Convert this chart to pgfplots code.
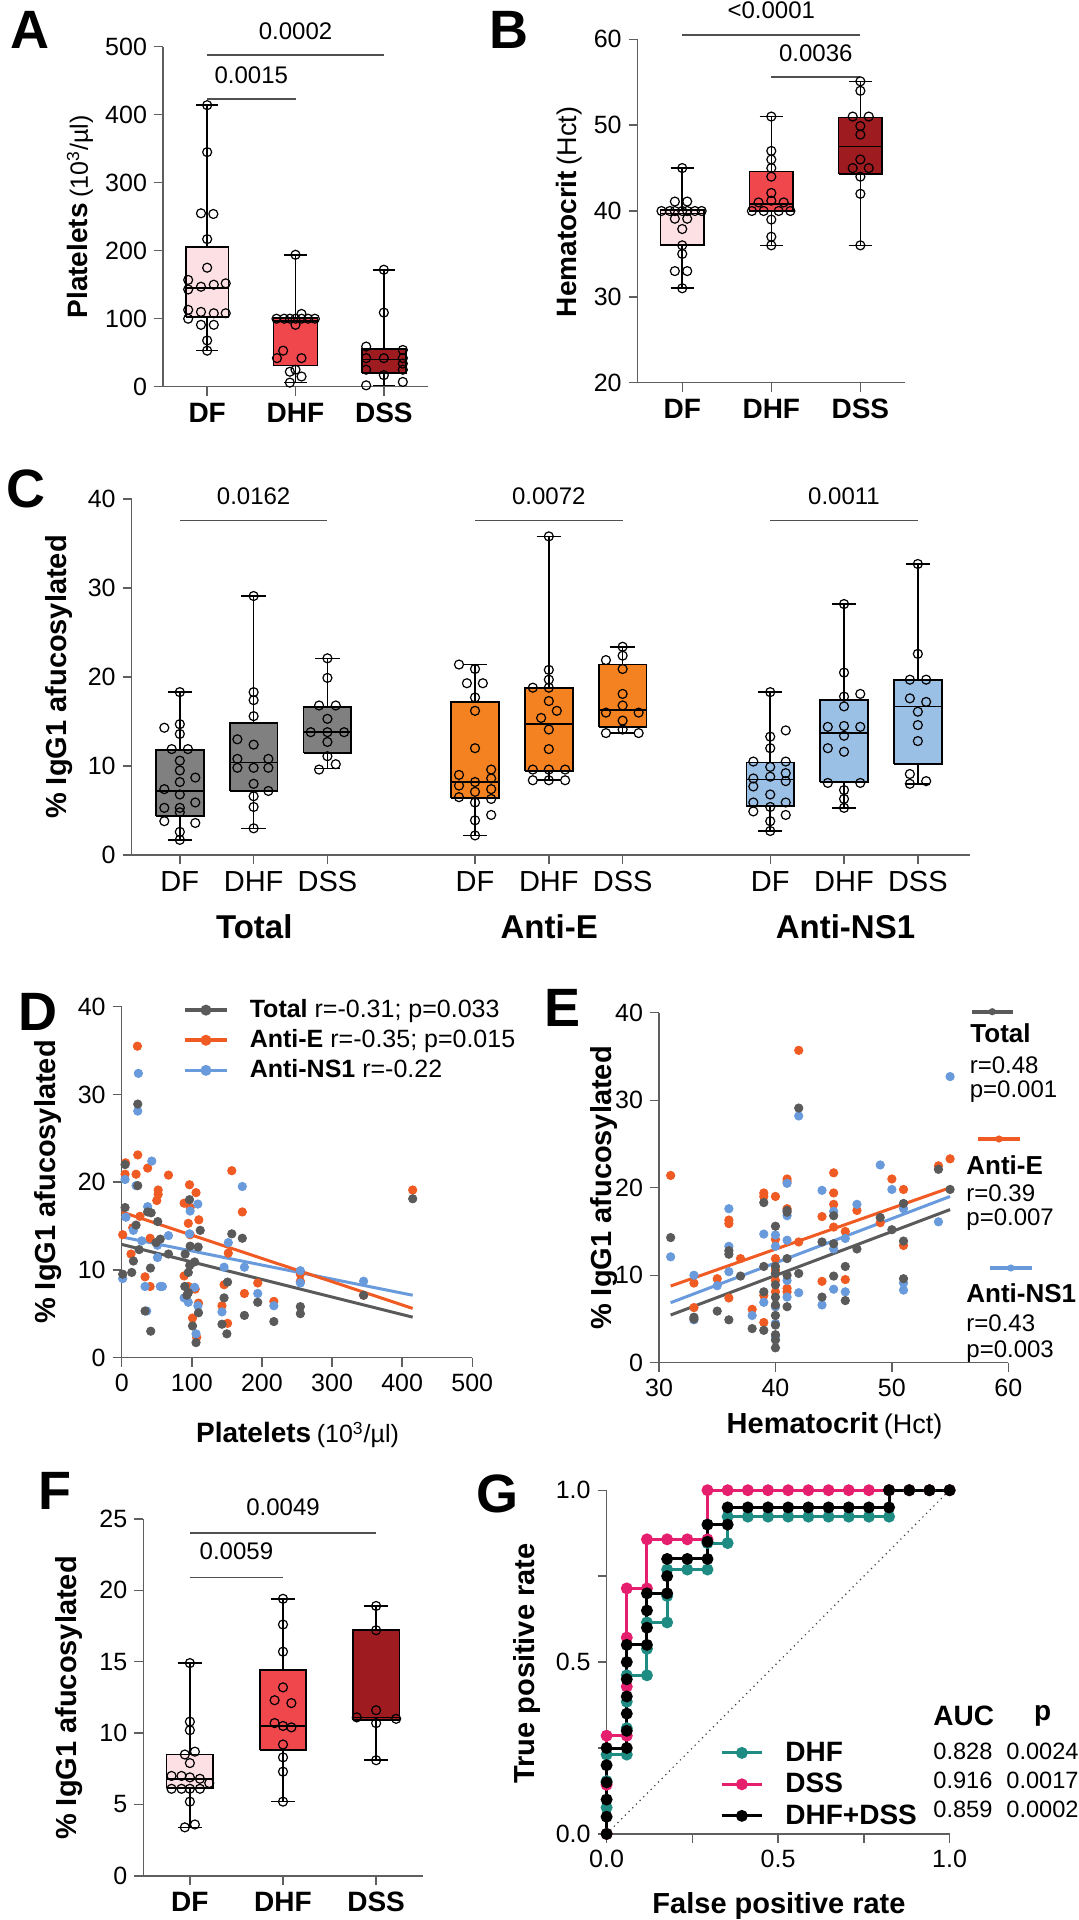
\documentclass[border=0pt]{standalone}
\usepackage{fontspec}
\setmainfont{Liberation Sans}
\usepackage{pgfplots}
\pgfplotsset{compat=1.18}
\newcommand{\fs}[1]{\fontsize{#1}{#1}\selectfont}
\definecolor{axc}{RGB}{95,95,95}
\definecolor{sigc}{RGB}{80,80,80}
\definecolor{DFc}{RGB}{252,224,228}
\definecolor{DHFc}{RGB}{239,71,76}
\definecolor{DSSc}{RGB}{158,27,32}
\definecolor{totc}{RGB}{128,128,128}
\definecolor{antiEc}{RGB}{245,130,32}
\definecolor{nsc}{RGB}{155,192,230}
\definecolor{sTot}{RGB}{90,90,90}
\definecolor{sE}{RGB}{240,90,35}
\definecolor{sNS}{RGB}{105,155,220}
\definecolor{gDHF}{RGB}{30,140,130}
\definecolor{gDSS}{RGB}{230,30,110}
\tikzset{sig/.style={sigc, line width=0.8pt}}
\pgfplotsset{
  gp/.style={scale only axis, anchor=south west, clip=false,
    axis lines=left, axis line style={-, draw=axc, line width=0.7pt},
    tick style={draw=axc, line width=0.7pt},
    tick align=outside, major tick length=4.5pt, minor tick length=4.5pt,
    /pgf/number format/assume math mode=true,
    tick label style={font=\fs{12.5}, text=black}},
  pts/.style={only marks, mark=o, mark size=2.25pt, black, mark options={line width=0.6pt, solid}, forget plot},
  sc/.style={only marks, mark=*, mark size=2.1pt, color=#1, forget plot},
  rl/.style={color=#1, line width=1.5pt, forget plot},
}
% box: pos, box half width, cap half width, lw, lq, med, uq, uw, fill
\newcommand{\bxp}[9]{%
\pgfmathsetmacro\xa{#1-#2}\pgfmathsetmacro\xb{#1+#2}\pgfmathsetmacro\ca{#1-#3}\pgfmathsetmacro\cb{#1+#3}%
\addplot[fill=#9, draw=black, line width=0.85pt, line join=miter, forget plot] coordinates {(\xa,#5) (\xb,#5) (\xb,#7) (\xa,#7) (\xa,#5)};%
\addplot[black, line width=0.8pt, forget plot, unbounded coords=jump] coordinates {(#1,#4) (#1,#5) (nan,nan) (#1,#7) (#1,#8) (nan,nan) (\ca,#4) (\cb,#4) (nan,nan) (\ca,#8) (\cb,#8) (nan,nan) (\xa,#6) (\xb,#6)};%
}
\begin{document}
\begin{tikzpicture}
\useasboundingbox (0,0) rectangle (539pt,-960pt);

% ---------------- A ----------------
\begin{axis}[gp, at={(81.5pt,-193.35pt)}, width=132.5pt, height=170pt,
  xmin=0.5, xmax=3.5, ymin=0, ymax=500, ytick={0,100,...,500},
  xtick={1,2,3}, xticklabels={DF,DHF,DSS}, xticklabel style={font=\bfseries\fs{14}}]
\bxp{1}{0.24}{0.125}{53}{103}{145}{205}{414}{DFc}
\bxp{2}{0.25}{0.125}{6}{31}{97}{101}{194}{DHFc}
\bxp{3}{0.25}{0.125}{2}{20}{40}{55}{172}{DSSc}
\addplot[pts] coordinates {(1,414) (1,345) (0.93,255) (1.07,254) (1,217) (1,175) (0.785,157) (1.21,152) (1.075,150) (0.93,147) (0.785,143) (0.785,113) (0.93,110) (1.075,108) (1.21,108) (0.785,100) (0.93,91) (1.075,91) (1,68) (1,53)};
\addplot[pts] coordinates {(2,194) (2.068,107) (1.785,100) (1.872,100) (1.936,100) (2,100) (2.068,100) (2.143,100) (2.219,100) (2,91) (1.86,53) (1.79,42) (2.068,42) (2,25) (1.936,22) (2.068,15) (1.936,6)};
\addplot[pts] coordinates {(3,172) (3,109) (2.8,59) (3.215,54) (2.8,42) (3,42) (3.215,42) (3.215,34) (2.8,25) (3.215,25) (3,17) (3.215,7) (2.8,2)};
\draw[sig] (axis cs:1,423) -- (axis cs:2,423);
\node[font=\fs{12}] at (axis cs:1.5,458) {0.0015};
\draw[sig] (axis cs:1,488) -- (axis cs:3,488);
\node[font=\fs{12}] at (axis cs:2,522) {0.0002};
\end{axis}

% ---------------- B ----------------
\begin{axis}[gp, at={(318.85pt,-191.35pt)}, width=133.6pt, height=171.7pt,
  xmin=0.5, xmax=3.5, ymin=20, ymax=60, ytick={20,30,...,60},
  xtick={1,2,3}, xticklabels={DF,DHF,DSS}, xticklabel style={font=\bfseries\fs{14}}]
\bxp{1}{0.245}{0.13}{31}{36}{39.7}{40.1}{45}{DFc}
\bxp{2}{0.245}{0.13}{36}{40}{40.8}{44.6}{51}{DHFc}
\bxp{3}{0.245}{0.13}{36}{44.3}{47.5}{50.9}{55.1}{DSSc}
\addplot[pts] coordinates {(1,45) (0.917,41.1) (1.056,41.1) (0.767,40) (0.861,40) (0.917,40) (1,40) (1.056,40) (1.143,40) (1.218,40) (0.917,39.1) (1.056,39.1) (1,37.9) (1,36) (1,35) (0.917,33) (1.056,33) (1,31)};
\addplot[pts] coordinates {(2,51) (2,47) (2,46) (2,45) (2,44) (2,42.1) (1.857,41) (2,41.2) (2.139,41) (1.782,40) (1.914,40) (2.083,40) (2.214,40) (2,39) (2,37) (2,36)};
\addplot[pts] coordinates {(3,55.1) (3,54) (2.914,51) (3.094,51) (3,49.9) (3,48.9) (3,46) (2.914,45) (3.094,45) (3,44) (3,42) (3,36)};
\draw[sig] (axis cs:1,60.5) -- (axis cs:3,60.5);
\node[font=\fs{12}] at (axis cs:2,63.4) {<0.0001};
\draw[sig] (axis cs:2,55.6) -- (axis cs:3,55.6);
\node[font=\fs{12}] at (axis cs:2.5,58.4) {0.0036};
\end{axis}

% ---------------- C ----------------
\begin{axis}[gp, at={(65.85pt,-427.5pt)}, width=419.15pt, height=178pt,
  xmin=0.348, xmax=11.707, ymin=0, ymax=40, ytick={0,10,...,40},
  xtick={1,2,3,5,6,7,9,10,11}, xticklabels={DF,DHF,DSS,DF,DHF,DSS,DF,DHF,DSS},
  xticklabel style={font=\fs{14.5}}]
\bxp{1}{0.323}{0.165}{1.7}{4.4}{7.2}{11.8}{18.3}{totc}
\bxp{2}{0.323}{0.165}{3.0}{7.2}{10.4}{14.8}{29.1}{totc}
\bxp{3}{0.323}{0.165}{9.7}{11.5}{13.8}{16.6}{22.1}{totc}
\bxp{5}{0.323}{0.165}{2.2}{6.4}{8.2}{17.2}{21.4}{antiEc}
\bxp{6}{0.323}{0.165}{8.4}{9.4}{14.7}{18.8}{35.8}{antiEc}
\bxp{7}{0.323}{0.165}{13.7}{14.4}{16.3}{21.4}{23.4}{antiEc}
\bxp{9}{0.323}{0.165}{2.7}{5.5}{8.5}{10.4}{18.3}{nsc}
\bxp{10}{0.323}{0.165}{5.3}{8.2}{13.7}{17.4}{28.2}{nsc}
\bxp{11}{0.323}{0.165}{8.0}{10.2}{16.7}{19.7}{32.7}{nsc}
\addplot[pts] coordinates {(1,18.3) (0.79,14.3) (1,14.7) (1,13.6) (0.89,11.9) (1.11,11.9) (1,10.6) (1,9.5) (1.21,8.7) (1,8.2) (0.79,7.4) (1,6.8) (1.21,5.9) (0.79,5.3) (1,5.3) (1,4.8) (0.79,3.8) (1.21,3.6) (1,2.6) (1,1.7)};
\addplot[pts] coordinates {(2,29.1) (2,18.3) (2,17.4) (2,15.6) (1.78,13.0) (2,12.4) (1.78,10.8) (2.2,10.8) (1.78,9.8) (2,9.8) (2.2,9.8) (2,8.0) (2.2,7.2) (2,6.6) (2,5.4) (2,3.0)};
\addplot[pts] coordinates {(3,22.1) (3,19.9) (2.887,16.8) (3.113,16.8) (3,15.3) (2.774,13.8) (3,13.8) (3.226,13.8) (3,12.7) (3,11.1) (3.113,10.2) (2.887,9.6)};
\addplot[pts] coordinates {(4.783,21.4) (5,20.9) (4.89,19.3) (5.106,19.3) (5,17.7) (5,16.2) (5,12.0) (5.219,9.6) (4.783,9.0) (5.219,8.6) (5,8.2) (4.783,7.8) (5.219,7.4) (5,7.1) (4.783,6.5) (5.219,6.3) (5,5.9) (5.219,4.5) (5,3.9) (5,2.2)};
\addplot[pts] coordinates {(6,35.8) (6,20.8) (6,19.7) (5.783,18.8) (6,18.8) (6,17.3) (6.108,16.2) (5.896,15.4) (6,14.1) (6,11.9) (5.783,9.6) (6,9.6) (6.221,9.6) (5.783,8.4) (6,8.4) (6.221,8.4)};
\addplot[pts] coordinates {(7,23.4) (7,22.4) (6.774,21.9) (7,20.9) (7,18.1) (7,16.8) (6.774,16.0) (7.217,16.0) (7,15.1) (7,14.1) (6.774,13.7) (7.217,13.7)};
\addplot[pts] coordinates {(9,18.3) (9.21,14.0) (9,13.3) (9,12.0) (8.771,10.5) (9.21,10.5) (9,9.9) (9.21,9.2) (9,8.8) (8.771,8.6) (9.21,8.3) (8.771,7.7) (9,6.8) (8.771,5.9) (9.21,5.9) (9,5.4) (8.771,4.9) (9.21,4.5) (9,3.8) (9,2.7)};
\addplot[pts] coordinates {(10,28.2) (10,20.5) (10,17.8) (10.22,18.1) (10,16.7) (10,14.5) (9.78,14.4) (10.22,14.4) (10,13.4) (9.78,12.0) (10,11.6) (9.78,8.1) (10.22,8.1) (10,7.3) (10,6.3) (10,5.3)};
\addplot[pts] coordinates {(11,32.7) (11,22.6) (10.892,19.7) (11.113,19.7) (10.892,17.6) (11.113,17.2) (11,16.1) (11,14.6) (11,12.8) (10.892,9.1) (11.113,8.3) (10.892,8.0)};
\draw[sig] (axis cs:1,37.6) -- (axis cs:3,37.6);
\node[font=\fs{12}] at (axis cs:2,40.3) {0.0162};
\draw[sig] (axis cs:5,37.6) -- (axis cs:7,37.6);
\node[font=\fs{12}] at (axis cs:6,40.3) {0.0072};
\draw[sig] (axis cs:9,37.6) -- (axis cs:11,37.6);
\node[font=\fs{12}] at (axis cs:10,40.3) {0.0011};
\end{axis}

% ---------------- D ----------------
\begin{axis}[gp, at={(60.85pt,-678.75pt)}, width=175.3pt, height=175.4pt,
  xmin=0, xmax=500, ymin=0, ymax=40, xtick={0,100,...,500}, ytick={0,10,...,40},
  legend style={at={(axis cs:87,41.2)}, anchor=north west, draw=none, fill=none, inner sep=0pt, row sep=1.5pt,
    font=\fs{12.5}, nodes={inner sep=1.5pt}, /tikz/every odd column/.append style={column sep=9pt}},
  legend cell align=left,
  legend image code/.code={\draw[mark repeat=2,mark phase=2,#1] plot coordinates {(0cm,0cm) (0.37cm,0cm) (0.74cm,0cm)};}]
\addlegendimage{sTot, line width=1.8pt, mark=*, mark size=1.8pt}
\addlegendentry{\textbf{Total} r=-0.31; p=0.033}
\addlegendimage{sE, line width=1.8pt, mark=*, mark size=1.8pt}
\addlegendentry{\textbf{Anti-E} r=-0.35; p=0.015}
\addlegendimage{sNS, line width=1.8pt, mark=*, mark size=1.8pt}
\addlegendentry{\textbf{Anti-NS1} r=-0.22}
\addplot[sc=sE] coordinates {(22.4,35.5) (22.9,23.1) (4.8,20.9) (5.5,22.2) (20.5,20.9) (37,21.6) (66.7,20.8) (52,19.1) (52,18.6) (50,17.9) (26,16.1) (96.7,19.7) (106,18.8) (89,17.6) (97.6,17.1) (110,15.7) (95,15.3) (97.6,14.0) (40.5,13.6) (15.7,14.8) (1.4,14.0) (13.3,11.8) (33.3,9.2) (40.5,8.1) (89,9.3) (104.8,7.8) (95,8.1) (109.5,6.2) (101,4.5) (107,2.3) (157,21.3) (172,16.6) (152,11.9) (146,8.3) (143,5.9) (151,3.9) (175,7.3) (194,8.5) (217,6.4) (254.8,9.5) (254.8,8.7) (345,7.1) (415,19.1)};
\addplot[sc=sNS] coordinates {(23.8,32.4) (22.9,28.1) (4.8,20.3) (42.9,22.4) (20.5,19.6) (6,16.0) (37,17.2) (1.4,9.0) (16.7,14.5) (28.6,13.3) (51,12.8) (66.7,13.9) (51,11.4) (33.3,8.1) (55,8.1) (58,8.1) (35.7,5.3) (97.6,16.7) (108.6,17.5) (96.7,14.1) (89,6.8) (95,6.3) (108.6,5.9) (106,2.7) (104,8.0) (172,19.5) (152,13.1) (146,10.3) (175,10.3) (143,5.2) (194,7.3) (217,5.9) (254.8,9.9) (254.8,8.5) (345,8.7)};
\addplot[sc=sTot] coordinates {(22.9,28.9) (4.8,22.0) (22.9,19.6) (4.8,17.1) (37,16.6) (42,16.5) (20.5,15.1) (51.4,15.5) (1.4,9.5) (14.3,9.7) (16.7,11.0) (24.8,12.3) (41,10.2) (49,13.1) (55,13.5) (66.7,11.8) (33.3,5.3) (41.4,3.0) (96.7,18.0) (97.6,12.7) (109,12.6) (112,14.5) (90.5,11.8) (97,10.5) (104,10.9) (95,9.7) (90,8.1) (95,7.4) (93,7.1) (109.5,5.1) (101,3.6) (106,1.7) (157,14.1) (172,13.6) (151,8.6) (146,6.8) (143,3.8) (150,2.7) (175,4.8) (194,6.3) (217,4.1) (254.8,5.8) (254.8,5.0) (345,7.1) (415,18.1)};
\addplot[rl=sNS] coordinates {(0,13.75) (415,7.1)};
\addplot[rl=sTot] coordinates {(0,12.9) (415,4.6)};
\addplot[rl=sE] coordinates {(0,16.6) (415,5.6)};
\end{axis}

% ---------------- E ----------------
\begin{axis}[gp, at={(329.5pt,-681.35pt)}, width=174.65pt, height=175pt,
  xmin=30, xmax=60, ymin=0, ymax=40, xtick={30,40,50,60}, ytick={0,10,...,40}]
\addplot[sc=sE] coordinates {(31,21.4) (33,9.1) (33,6.3) (35,9.6) (36,16.3) (36,15.9) (36,7.4) (37,11.9) (38,6.1) (39,19.4) (39,19.0) (39,7.7) (39,4.6) (40,19.0) (40,14.1) (40,11.9) (40,10.6) (40,9.4) (40,8.1) (40,6.4) (41,21.0) (41,20.7) (41,17.6) (41,8.5) (41,8.1) (42,35.7) (42,13.8) (44,16.7) (44,9.3) (45,21.7) (45,19.4) (45,18.1) (45,15.5) (46,15.0) (46,9.5) (47,17.4) (49,16.0) (50,21.0) (51,19.8) (51,13.4) (54,22.5) (55,23.3)};
\addplot[sc=sNS] coordinates {(31,12.1) (33,10.0) (33,4.9) (35,8.8) (36,17.6) (36,13.3) (36,10.4) (38,5.4) (39,14.7) (39,6.9) (40,14.6) (40,13.3) (40,6.4) (40,4.5) (40,3.0) (41,20.5) (41,16.8) (41,14.0) (41,9.4) (41,7.5) (42,28.2) (42,8.0) (44,19.7) (44,6.6) (45,17.3) (45,13.0) (45,8.4) (46,14.2) (46,8.1) (47,18.1) (49,22.6) (50,19.8) (51,17.6) (51,9.1) (51,8.3) (54,16.1) (55,32.7)};
\addplot[sc=sTot] coordinates {(31,14.3) (33,5.2) (33,5.0) (35,5.9) (36,12.8) (36,12.4) (36,4.9) (37,9.9) (38,3.9) (39,18.3) (39,11.0) (39,8.1) (39,3.7) (40,15.6) (40,11.0) (40,10.2) (40,8.9) (40,7.5) (40,6.6) (40,5.4) (40,4.3) (40,3.2) (40,2.6) (40,1.7) (41,17.4) (41,17.2) (41,11.9) (41,10.0) (41,6.4) (42,29.1) (42,10.2) (44,13.8) (44,7.5) (45,16.8) (45,13.6) (45,9.9) (46,11.0) (46,7.1) (47,13.0) (49,16.6) (50,15.2) (51,18.2) (51,13.9) (51,9.6) (54,22.1) (55,19.8)};
\addplot[rl=sTot] coordinates {(31,5.45) (55,17.5)};
\addplot[rl=sNS] coordinates {(31,6.86) (55,19.0)};
\addplot[rl=sE] coordinates {(31,8.76) (55,20.0)};
\end{axis}

% ---------------- F ----------------
\begin{axis}[gp, at={(71.65pt,-937.95pt)}, width=139.7pt, height=178.55pt,
  xmin=0.5, xmax=3.5, ymin=0, ymax=25, ytick={0,5,...,25},
  xtick={1,2,3}, xticklabels={DF,DHF,DSS}, xticklabel style={font=\bfseries\fs{14}}]
\bxp{1}{0.25}{0.125}{3.4}{6.14}{6.8}{8.5}{14.9}{DFc}
\bxp{2}{0.25}{0.125}{5.2}{8.8}{10.5}{14.4}{19.4}{DHFc}
\bxp{3}{0.25}{0.125}{8.1}{10.9}{11.1}{17.2}{18.9}{DSSc}
\addplot[pts] coordinates {(1,14.9) (1,10.8) (1,10.2) (1.054,8.7) (0.946,8.5) (1,7.9) (0.803,7.0) (0.91,7.0) (1,6.9) (1.108,6.8) (1.208,6.5) (0.803,6.1) (0.91,6.1) (1,6.1) (1.108,6.1) (1,5.2) (1.054,3.6) (0.946,3.4)};
\addplot[pts] coordinates {(2,19.4) (2,17.6) (2,15.7) (2,13.2) (1.91,12.3) (2.09,12.1) (1.91,10.7) (2,10.5) (2.09,10.4) (2,9.2) (2,8.3) (2,7.3) (2,5.2)};
\addplot[pts] coordinates {(3,18.9) (3,17.2) (3,11.6) (2.792,11.1) (3.215,11.0) (3,10.7) (3,8.1)};
\draw[sig] (axis cs:1,20.9) -- (axis cs:2,20.9);
\node[font=\fs{12}] at (axis cs:1.5,22.7) {0.0059};
\draw[sig] (axis cs:1,24.0) -- (axis cs:3,24.0);
\node[font=\fs{12}] at (axis cs:2,25.8) {0.0049};
\end{axis}

% ---------------- G ----------------
\begin{axis}[gp, at={(303.3pt,-916.95pt)}, width=171.5pt, height=171.85pt,
  xmin=0, xmax=1, ymin=0, ymax=1,
  xtick={0,0.5,1}, xticklabels={0.0,0.5,1.0}, minor xtick={0.25,0.75},
  ytick={0,0.5,1}, yticklabels={0.0,0.5,1.0}, minor ytick={0.25,0.75},
  legend style={at={(axis cs:0.33,0.278)}, anchor=north west, draw=none, fill=none, inner sep=0pt, row sep=1.5pt,
    font=\bfseries\fs{14}, nodes={inner sep=1.5pt}, /tikz/every odd column/.append style={column sep=9.4pt}},
  legend cell align=left,
  legend image code/.code={\draw[mark repeat=2,mark phase=2,#1] plot coordinates {(0cm,0cm) (0.355cm,0cm) (0.71cm,0cm)};}]
\addplot[black!75, dotted, line width=0.6pt, forget plot] coordinates {(0,0) (1,1)};
\addplot[gDHF, line width=1.5pt, mark=*, mark size=2.2pt] coordinates {(0,0) (0,0.0769) (0,0.1538) (0,0.2308) (0.0588,0.2308) (0.0588,0.3077) (0.0588,0.3846) (0.0588,0.4615) (0.1176,0.4615) (0.1176,0.5385) (0.1176,0.6154) (0.1765,0.6154) (0.1765,0.6923) (0.1765,0.7692) (0.2353,0.7692) (0.2941,0.7692) (0.2941,0.8462) (0.3529,0.8462) (0.3529,0.9231) (0.4118,0.9231) (0.4706,0.9231) (0.5294,0.9231) (0.5882,0.9231) (0.6471,0.9231) (0.7059,0.9231) (0.7647,0.9231) (0.8235,0.9231) (0.8235,1) (0.8824,1) (0.9412,1) (1,1)};
\addlegendentry{DHF}
\addplot[gDSS, line width=1.5pt, mark=*, mark size=2.2pt] coordinates {(0,0) (0,0.1429) (0,0.2857) (0.0588,0.2857) (0.0588,0.4286) (0.0588,0.5714) (0.0588,0.7143) (0.1176,0.7143) (0.1176,0.8571) (0.1765,0.8571) (0.2353,0.8571) (0.2941,0.8571) (0.2941,1) (0.3529,1) (0.4118,1) (0.4706,1) (0.5294,1) (0.5882,1) (0.6471,1) (0.7059,1) (0.7647,1) (0.8235,1) (0.8824,1) (0.9412,1) (1,1)};
\addlegendentry{DSS}
\addplot[black, line width=1.5pt, mark=*, mark size=2.2pt] coordinates {(0,0) (0,0.05) (0,0.1) (0,0.15) (0,0.2) (0,0.25) (0.0588,0.25) (0.0588,0.3) (0.0588,0.35) (0.0588,0.4) (0.0588,0.45) (0.0588,0.5) (0.0588,0.55) (0.1176,0.55) (0.1176,0.6) (0.1176,0.65) (0.1176,0.7) (0.1765,0.7) (0.1765,0.75) (0.1765,0.8) (0.2353,0.8) (0.2941,0.8) (0.2941,0.85) (0.2941,0.9) (0.3529,0.9) (0.3529,0.95) (0.4118,0.95) (0.4706,0.95) (0.5294,0.95) (0.5882,0.95) (0.6471,0.95) (0.7059,0.95) (0.7647,0.95) (0.8235,0.95) (0.8235,1) (0.8824,1) (0.9412,1) (1,1)};
\addlegendentry{DHF+DSS}
\end{axis}

% ---------------- outer text ----------------
\begin{scope}[every node/.style={inner sep=0pt}]
\node[font=\bfseries\fs{27}] at (15pt,-15pt) {A};
\node[font=\bfseries\fs{27}] at (254.5pt,-15pt) {B};
\node[font=\bfseries\fs{27}] at (13pt,-244.5pt) {C};
\node[font=\bfseries\fs{27}] at (18.75pt,-505.75pt) {D};
\node[font=\bfseries\fs{27}] at (281pt,-504pt) {E};
\node[font=\bfseries\fs{27}] at (27.5pt,-745.5pt) {F};
\node[font=\bfseries\fs{27}] at (248.75pt,-746.75pt) {G};

\node[rotate=90] at (40pt,-108.5pt) {{\bfseries\fs{14}Platelets} {\fs{12.5}(10\textsuperscript{3}/µl)}};
\node[rotate=90] at (284.5pt,-106pt) {{\bfseries\fs{14}Hematocrit} {\fs{13.5}(Hct)}};
\node[rotate=90, font=\bfseries\fs{14.5}] at (29.5pt,-338.5pt) {\% IgG1 afucosylated};
\node[rotate=90, font=\bfseries\fs{14.5}] at (24pt,-591pt) {\% IgG1 afucosylated};
\node[rotate=90, font=\bfseries\fs{14.5}] at (302pt,-594pt) {\% IgG1 afucosylated};
\node[rotate=90, font=\bfseries\fs{14.5}] at (34.5pt,-849pt) {\% IgG1 afucosylated};
\node[rotate=90, font=\bfseries\fs{14.5}] at (263.5pt,-831.8pt) {True positive rate};

\node[font=\bfseries\fs{16.5}] at (127.15pt,-463.5pt) {Total};
\node[font=\bfseries\fs{16.5}] at (274.6pt,-463.5pt) {Anti-E};
\node[font=\bfseries\fs{16.5}] at (422.75pt,-463.5pt) {Anti-NS1};

\node at (148.75pt,-717.5pt) {{\bfseries\fs{14}Platelets} {\fs{12.5}(10\textsuperscript{3}/µl)}};
\node at (417.25pt,-713pt) {{\bfseries\fs{14.5}Hematocrit} {\fs{13.5}(Hct)}};
\node[font=\bfseries\fs{14.5}] at (389.5pt,-953pt) {False positive rate};

% E legend
\draw[sTot, line width=1.8pt] (485.85pt,-505.85pt) -- (506.35pt,-505.85pt);
\fill[sTot] (496.1pt,-505.85pt) circle (1.8pt);
\node[anchor=west, font=\bfseries\fs{13}] at (485pt,-516.5pt) {Total};
\node[anchor=west, font=\fs{12}] at (484.7pt,-532.5pt) {r=0.48};
\node[anchor=west, font=\fs{12}] at (484.7pt,-545.85pt) {p=0.001};
\draw[sE, line width=1.8pt] (489pt,-569.5pt) -- (510pt,-569.5pt);
\fill[sE] (499.5pt,-569.5pt) circle (1.8pt);
\node[anchor=west, font=\bfseries\fs{13}] at (483pt,-582.5pt) {Anti-E};
\node[anchor=west, font=\fs{12}] at (483pt,-596.5pt) {r=0.39};
\node[anchor=west, font=\fs{12}] at (483pt,-610pt) {p=0.007};
\draw[sNS, line width=1.8pt] (495pt,-634pt) -- (515.85pt,-634pt);
\fill[sNS] (505.4pt,-634pt) circle (1.8pt);
\node[anchor=west, font=\bfseries\fs{13}] at (483pt,-646.5pt) {Anti-NS1};
\node[anchor=west, font=\fs{12}] at (483pt,-661.5pt) {r=0.43};
\node[anchor=west, font=\fs{12}] at (483pt,-675.85pt) {p=0.003};

% G table
\node[font=\bfseries\fs{14}] at (481.85pt,-858pt) {AUC};
\node[font=\bfseries\fs{14}] at (521.3pt,-858pt) {p};
\node[anchor=west, font=\fs{11.8}] at (466.5pt,-875.7pt) {0.828};
\node[anchor=west, font=\fs{11.8}] at (466.5pt,-890pt) {0.916};
\node[anchor=west, font=\fs{11.8}] at (466.5pt,-904.7pt) {0.859};
\node[anchor=west, font=\fs{11.8}] at (503pt,-875.7pt) {0.0024};
\node[anchor=west, font=\fs{11.8}] at (503pt,-890pt) {0.0017};
\node[anchor=west, font=\fs{11.8}] at (503pt,-904.7pt) {0.0002};
\end{scope}
\end{tikzpicture}
\end{document}
